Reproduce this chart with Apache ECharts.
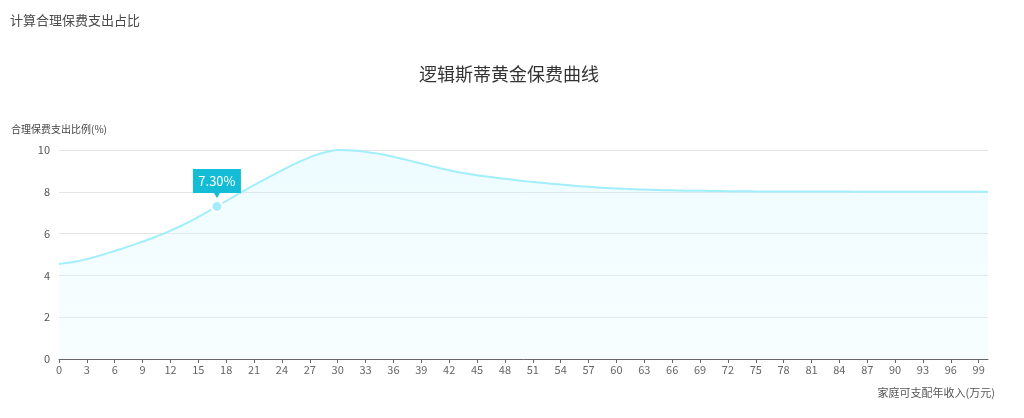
<!DOCTYPE html>
<html>
<head>
<meta charset="utf-8">
<script src="https://cdn.jsdelivr.net/npm/echarts@6/dist/echarts.min.js"></script>
<style>
html,body{margin:0;padding:0;background:#fff;}
#main{width:1024px;height:418px;}
</style>
</head>
<body>
<div id="main"></div>
<script>
var pageTitle = '计算合理保费支出占比';
var chartTitle = '逻辑斯蒂黄金保费曲线';
var yAxisName = '合理保费支出比例(%)';
var xAxisName = '家庭可支配年收入(万元)';

// income categories 0..100 (万元)
var incomes = [];
for (var k = 0; k <= 100; k++) incomes.push(String(k));

// premium share (%)
var ratios = [
  4.55, 4.60, 4.68, 4.78, 4.90, 5.03, 5.17, 5.31, 5.46, 5.62,
  5.78, 5.95, 6.14, 6.34, 6.56, 6.80, 7.05, 7.30, 7.56, 7.82,
  8.07, 8.32, 8.56, 8.80, 9.03, 9.25, 9.46, 9.65, 9.81, 9.93,
  10.00, 9.99, 9.96, 9.91, 9.85, 9.77, 9.68, 9.57, 9.46, 9.35,
  9.24, 9.13, 9.03, 8.94, 8.86, 8.79, 8.73, 8.67, 8.62, 8.57,
  8.52, 8.47, 8.43, 8.39, 8.35, 8.31, 8.27, 8.24, 8.21, 8.18,
  8.16, 8.14, 8.12, 8.11, 8.09, 8.08, 8.07, 8.06, 8.05, 8.05,
  8.04, 8.04, 8.03, 8.03, 8.03, 8.02, 8.02, 8.02, 8.02, 8.01,
  8.01, 8.01, 8.01, 8.01, 8.01, 8.01, 8.00, 8.00, 8.00, 8.00,
  8.00, 8.00, 8.00, 8.00, 8.00, 8.00, 8.00, 8.00, 8.00, 8.00,
  8.00
];

// highlighted point
var markIncome = '17';
var markValue = 7.30;
var markText = '7.30%';

var yTicks = {min: 0, max: 10, interval: 2};

var FONT = '"Noto Sans CJK SC", "Microsoft YaHei", sans-serif';

var seriesData = ratios.map(function (v, i) {
  if (incomes[i] === markIncome) {
    return {
      value: v,
      symbol: 'circle',
      symbolSize: 11,
      itemStyle: {color: '#a4ecfb', borderColor: '#ffffff', borderWidth: 2, opacity: 1}
    };
  }
  return {value: v, symbol: 'none'};
});

var chart = echarts.init(document.getElementById('main'));
chart.setOption({
  animation: false,
  backgroundColor: '#ffffff',
  textStyle: {fontFamily: FONT},
  title: [
    {
      text: pageTitle,
      left: 5,
      top: 9,
      textStyle: {fontSize: 13, fontWeight: 'normal', color: '#4a4a4a', fontFamily: FONT}
    },
    {
      text: chartTitle,
      left: 414,
      top: 60,
      textStyle: {fontSize: 18, fontWeight: 'normal', color: '#333', fontFamily: FONT}
    }
  ],
  grid: {left: 59, right: 36, top: 150, bottom: 59, containLabel: false},
  xAxis: {
    type: 'category',
    data: incomes,
    boundaryGap: false,
    name: xAxisName,
    nameLocation: 'end',
    nameGap: 7,
    nameTextStyle: {
      fontSize: 11, color: '#555', align: 'right', verticalAlign: 'top',
      padding: [28, 0, 0, 0], fontFamily: FONT
    },
    axisLine: {lineStyle: {color: '#666', width: 1}},
    axisTick: {show: true, interval: 2, length: 4, lineStyle: {color: '#666'}},
    axisLabel: {interval: 2, fontSize: 11, color: '#666', margin: 5, fontFamily: FONT},
    splitLine: {show: false}
  },
  yAxis: {
    type: 'value',
    min: yTicks.min,
    max: yTicks.max,
    interval: yTicks.interval,
    name: yAxisName,
    nameGap: 16,
    nameTextStyle: {fontSize: 10, color: '#444', fontFamily: FONT},
    axisLine: {show: false},
    axisTick: {show: false},
    axisLabel: {fontSize: 11, color: '#555', margin: 9, fontFamily: FONT},
    splitLine: {lineStyle: {color: '#e4e4e4', width: 1}}
  },
  series: [{
    type: 'line',
    data: seriesData,
    smooth: true,
    showSymbol: true,
    symbol: 'none',
    lineStyle: {color: '#a3eefc', width: 2},
    itemStyle: {color: '#a3eefc'},
    areaStyle: {
      color: new echarts.graphic.LinearGradient(0, 0, 0, 1, [
        {offset: 0, color: 'rgba(200,245,255,0.45)'},
        {offset: 1, color: 'rgba(225,250,255,0.35)'}
      ])
    },
    markPoint: {
      silent: true,
      data: [{
        coord: [markIncome, markValue],
        value: markText,
        symbol: 'path://M0,0 H48 V24 H27 L24,29 L21,24 H0 Z',
        symbolSize: [48, 29],
        symbolKeepAspect: false,
        symbolOffset: [0, -23],
        itemStyle: {color: '#14bdd5'},
        label: {
          show: true,
          position: 'inside',
          offset: [0, -2.5],
          formatter: markText,
          color: '#ffffff',
          fontSize: 13,
          fontFamily: FONT
        }
      }]
    }
  }]
});
</script>
</body>
</html>
